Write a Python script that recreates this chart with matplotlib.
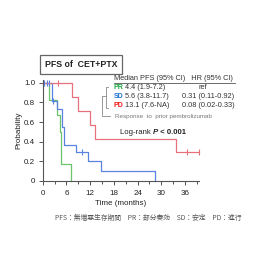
import numpy as np
import matplotlib
matplotlib.use("Agg")
import matplotlib.pyplot as plt
from matplotlib.ticker import MultipleLocator

plt.rcParams['font.family'] = ['Liberation Sans', 'Noto Sans CJK JP', 'DejaVu Sans']

# Kaplan-Meier step data (time in months, survival probability)
pr_t = [0, 1.7, 3.5, 4.4, 4.6, 7.2]
pr_s = [1.0, 0.83, 0.67, 0.50, 0.17, 0.0]
sd_t = [0, 2.3, 3.7, 4.8, 5.5, 8.4, 11.5, 14.7, 28.4]
sd_s = [1.0, 0.82, 0.73, 0.55, 0.37, 0.29, 0.20, 0.10, 0.0]
pd_t = [0, 7.3, 9.0, 11.9, 13.2, 33.7, 39.5]
pd_s = [1.0, 0.86, 0.71, 0.57, 0.43, 0.29, 0.29]
sd_cens = [0.3, 1.0, 1.6, 2.7, 10.0]
pd_cens = [3.9, 36.5, 39.5]

x_ticks = [0, 6, 12, 18, 24, 30, 36]
y_ticks = [0, 0.2, 0.4, 0.6, 0.8, 1.0]
y_ticklabels = ["0", "0.2", "0.4", "0.6", "0.8", "1.0"]

groups = ["PR", "SD", "PD"]
medians = ["4.4 (1.9-7.2)", "5.6 (3.8-11.7)", "13.1 (7.6-NA)"]
hrs = ["ref", "0.31 (0.11-0.92)", "0.08 (0.02-0.33)"]

line_cols = {"PR": "#6cc46c", "SD": "#5a82e0", "PD": "#e8707e"}
text_cols = {"PR": "#1faa44", "SD": "#1f72d4", "PD": "#f01818"}

W = H = 280
fig = plt.figure(figsize=(2.8, 2.8), dpi=100)

def fx(p): return p / W
def fy(p): return 1 - p / H

ax = fig.add_axes([fx(42.7), fy(180.7), fx(199.3) - fx(42.7), fy(80) - fy(180.7)])

def surv_at(t_arr, s_arr, t):
    i = np.searchsorted(np.asarray(t_arr), t, side='right') - 1
    return s_arr[i]

for g, t, s in (("PR", pr_t, pr_s), ("SD", sd_t, sd_s), ("PD", pd_t, pd_s)):
    ax.step(t, s, where='post', color=line_cols[g], lw=0.9, clip_on=False)

ax.plot(sd_cens, [surv_at(sd_t, sd_s, c) for c in sd_cens], ls='none', marker='|',
        ms=4, mew=0.8, color=line_cols["SD"], clip_on=False)
ax.plot(pd_cens, [surv_at(pd_t, pd_s, c) for c in pd_cens], ls='none', marker='|',
        ms=4, mew=0.8, color=line_cols["PD"], clip_on=False)

ax.set_xlim(0, 39.6)
ax.set_ylim(0, 1.03)
ax.set_xticks(x_ticks)
ax.xaxis.set_minor_locator(MultipleLocator(3))
ax.set_yticks(y_ticks)
ax.set_yticklabels(y_ticklabels)
for sp in ("top", "right"):
    ax.spines[sp].set_visible(False)
for sp in ("left", "bottom"):
    ax.spines[sp].set_color("#555555")
    ax.spines[sp].set_linewidth(0.8)
ax.tick_params(axis='both', which='both', direction='out', colors="#555555",
               labelcolor="#222222", labelsize=5.8, width=0.7)
ax.tick_params(axis='both', which='major', length=3, pad=2.5)
ax.tick_params(axis='x', which='major', pad=4)
ax.tick_params(axis='x', which='minor', length=2.5)
ax.set_xlabel("Time (months)", fontsize=5.8, color="#222222", labelpad=2)
ax.set_ylabel("Probability", fontsize=5.8, color="#222222", labelpad=1)

# Title box
fig.text(fx(81), fy(64.5), "PFS of  CET+PTX", fontsize=6.3, fontweight='bold',
         ha='center', va='center', color="#222222",
         bbox=dict(boxstyle='square,pad=0.55', fc='white', ec='#666666', lw=0.9))

# Legend-like annotation
fig.text(fx(114), fy(79), "Median PFS (95% CI)   HR (95% CI)", fontsize=5.3,
         ha='left', va='center', color="#333333")
fig.add_artist(plt.Line2D([fx(114), fx(235)], [fy(83), fy(83)], color="#333333", lw=0.5))

row_y = [87.7, 96.0, 105.5]
for g, m, h, yy in zip(groups, medians, hrs, row_y):
    fig.text(fx(113.5), fy(yy), g, fontsize=5.0, fontweight='bold', color=text_cols[g],
             ha='left', va='center')
    fig.text(fx(125), fy(yy), m, fontsize=5.3, color="#333333", ha='left', va='center')
    if h == "ref":
        fig.text(fx(203), fy(yy), h, fontsize=5.3, color="#333333", ha='center', va='center')
    else:
        fig.text(fx(182.5), fy(yy), h, fontsize=5.3, color="#333333", ha='left', va='center')

fig.text(fx(115), fy(116), "Response  to  prior pembrolizumab", fontsize=4.5,
         color="#777777", ha='left', va='center')

br = "#888888"
for xs, ys in (([108.3, 106, 106, 108.3], [86.7, 86.7, 107.5, 107.5]),
               ([106, 101.7, 101.7, 110], [96, 96, 116, 116])):
    fig.add_artist(plt.Line2D([fx(v) for v in xs], [fy(v) for v in ys], color=br, lw=0.6))

# Log-rank text laid out piece by piece
fig.canvas.draw()
renderer = fig.canvas.get_renderer()
x0 = 119.5
pieces = [("Log-rank ", dict(fontweight='normal')),
          ("P", dict(fontweight='bold', fontstyle='italic')),
          (" < 0.001", dict(fontweight='bold'))]
for txt, kw in pieces:
    t = fig.text(fx(x0), fy(132.3), txt, fontsize=5.6, color="#222222",
                 ha='left', va='center', **kw)
    bb = t.get_window_extent(renderer=renderer)
    x0 += bb.width

fig.text(fx(148), fy(217.7), "PFS：無増悪生存期間　PR：部分奏効　SD：安定　PD：進行",
         fontsize=4.9, color="#555555", ha='center', va='center',
         family=['Noto Sans CJK JP', 'DejaVu Sans'])

fig.savefig("out.png", dpi=100, facecolor='white')
